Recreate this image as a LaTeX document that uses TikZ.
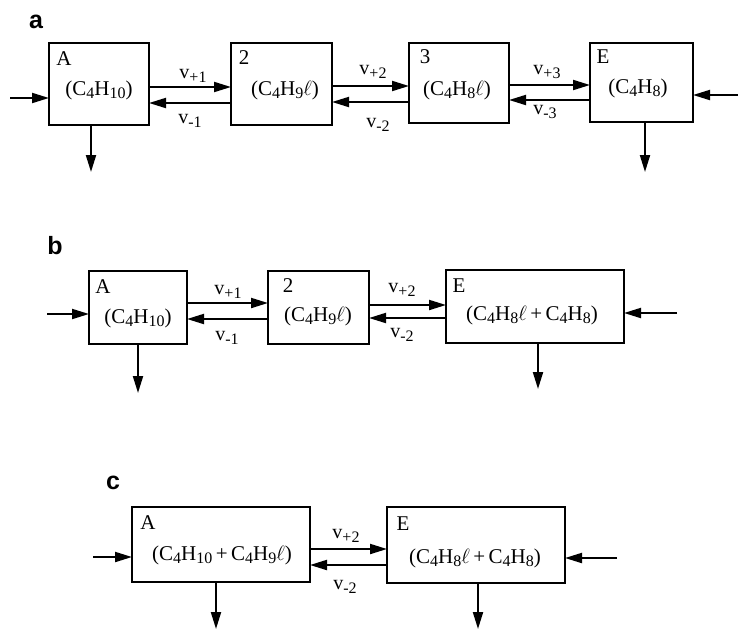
\documentclass[tikz,border=0pt]{standalone}
\usepackage{fontspec}
\setmainfont{Liberation Serif}
\newfontfamily\labfont{Liberation Sans}
\usetikzlibrary{arrows.meta}
\newcommand{\dn}[1]{\raisebox{-0.35ex}{\fontsize{16}{16}\selectfont #1}}
\newcommand{\vl}[1]{v\raisebox{-0.45ex}{\fontsize{16}{16}\selectfont #1}}
\newcommand{\ellx}{\ensuremath{\ell}}
\begin{document}
\begin{tikzpicture}[x=1pt,y=-1pt,
  box/.style={draw, line width=2pt, inner sep=0pt, outer sep=0pt},
  flow/.style={line width=2pt, -{Triangle[length=17pt,width=10pt]}},
  txt/.style={font=\fontsize{21}{23}\selectfont, inner sep=0pt},
  rate/.style={font=\fontsize{20}{22}\selectfont, inner sep=0pt},
  panel/.style={font=\labfont\bfseries\fontsize{25}{27}\selectfont, inner sep=0pt}]
\useasboundingbox (0,0) rectangle (739,630);

% ---------- a ----------
\node[panel] (pa) at (36,22) {a};
\node[box, minimum width=100pt, minimum height=82pt] (aA) at (99,84) {};
\node[box, minimum width=101pt, minimum height=82pt] (a2) at (281.5,84) {};
\node[box, minimum width=100pt, minimum height=80pt] (a3) at (459,83) {};
\node[box, minimum width=103pt, minimum height=79pt] (aE) at (641.5,82.5) {};
\node[txt] (aAl) at (64,59) {A};
\node[txt] (aAf) at (99,90) {(C\dn{4}H\dn{10})};
\node[txt] (a2l) at (244,58) {2};
\node[txt] (a2f) at (285,90) {(C\dn{4}H\dn{9}\ellx)};
\node[txt] (a3l) at (425,57) {3};
\node[txt] (a3f) at (457,90) {(C\dn{4}H\dn{8}\ellx)};
\node[txt] (aEl) at (603,57) {E};
\node[txt] (aEf) at (638,88) {(C\dn{4}H\dn{8})};
\coordinate (ainL) at (10,98);
\coordinate (ainR) at (738,95);
\coordinate (aoutA) at (91,172);
\coordinate (aoutE) at (645,172);
\draw[flow] (ainL) -- (aA.west |- ainL);
\draw[flow] (ainR) -- (aE.east |- ainR);
\draw[flow] (aA.south -| aoutA) -- (aoutA);
\draw[flow] (aE.south -| aoutE) -- (aoutE);
\draw[flow] (aA.east |- 0,87) -- (a2.west |- 0,87);
\draw[flow] (a2.west |- 0,103) -- (aA.east |- 0,103);
\draw[flow] (a2.east |- 0,86) -- (a3.west |- 0,86);
\draw[flow] (a3.west |- 0,102) -- (a2.east |- 0,102);
\draw[flow] (a3.east |- 0,85) -- (aE.west |- 0,85);
\draw[flow] (aE.west |- 0,100) -- (a3.east |- 0,100);
\node[rate] (av1p) at (193,76) {\vl{+1}};
\node[rate] (av1m) at (190,121) {\vl{-1}};
\node[rate] (av2p) at (373,72) {\vl{+2}};
\node[rate] (av2m) at (378,125) {\vl{-2}};
\node[rate] (av3p) at (547,72) {\vl{+3}};
\node[rate] (av3m) at (545,112) {\vl{-3}};

% ---------- b ----------
\node[panel] (pb) at (55,246) {b};
\node[box, minimum width=98pt, minimum height=73pt] (bA) at (138,307.5) {};
\node[box, minimum width=101pt, minimum height=73pt] (b2) at (318.5,307.5) {};
\node[box, minimum width=178pt, minimum height=73pt] (bE) at (535,306.5) {};
\node[txt] (bAl) at (103,287) {A};
\node[txt] (bAf) at (138,318) {(C\dn{4}H\dn{10})};
\node[txt] (b2l) at (288,286) {2};
\node[txt] (b2f) at (318,316) {(C\dn{4}H\dn{9}\ellx)};
\node[txt] (bEl) at (459,286) {E};
\node[txt] (bEf) at (532,315) {(C\dn{4}H\dn{8}\ellx\,+\,C\dn{4}H\dn{8})};
\coordinate (binL) at (47,314);
\coordinate (binR) at (677,313);
\coordinate (boutA) at (138,393);
\coordinate (boutE) at (538,389);
\draw[flow] (binL) -- (bA.west |- binL);
\draw[flow] (binR) -- (bE.east |- binR);
\draw[flow] (bA.south -| boutA) -- (boutA);
\draw[flow] (bE.south -| boutE) -- (boutE);
\draw[flow] (bA.east |- 0,303) -- (b2.west |- 0,303);
\draw[flow] (b2.west |- 0,319) -- (bA.east |- 0,319);
\draw[flow] (b2.east |- 0,305) -- (bE.west |- 0,305);
\draw[flow] (bE.west |- 0,318) -- (b2.east |- 0,318);
\node[rate] (bv1p) at (228,292) {\vl{+1}};
\node[rate] (bv1m) at (227,338) {\vl{-1}};
\node[rate] (bv2p) at (402,290) {\vl{+2}};
\node[rate] (bv2m) at (402,335) {\vl{-2}};

% ---------- c ----------
\node[panel] (pc) at (113,483) {c};
\node[box, minimum width=178pt, minimum height=75pt] (cA) at (221,544.5) {};
\node[box, minimum width=178pt, minimum height=76pt] (cE) at (476,545) {};
\node[txt] (cAl) at (148,523) {A};
\node[txt] (cAf) at (222,555) {(C\dn{4}H\dn{10}\,+\,C\dn{4}H\dn{9}\ellx)};
\node[txt] (cEl) at (403,524) {E};
\node[txt] (cEf) at (475,558) {(C\dn{4}H\dn{8}\ellx\,+\,C\dn{4}H\dn{8})};
\coordinate (cinL) at (93,557);
\coordinate (cinR) at (617,558);
\coordinate (coutA) at (216,629);
\coordinate (coutE) at (478,629);
\draw[flow] (cinL) -- (cA.west |- cinL);
\draw[flow] (cinR) -- (cE.east |- cinR);
\draw[flow] (cA.south -| coutA) -- (coutA);
\draw[flow] (cE.south -| coutE) -- (coutE);
\draw[flow] (cA.east |- 0,549) -- (cE.west |- 0,549);
\draw[flow] (cE.west |- 0,565) -- (cA.east |- 0,565);
\node[rate] (cv2p) at (346,536) {\vl{+2}};
\node[rate] (cv2m) at (345,587) {\vl{-2}};
\end{tikzpicture}
\end{document}
